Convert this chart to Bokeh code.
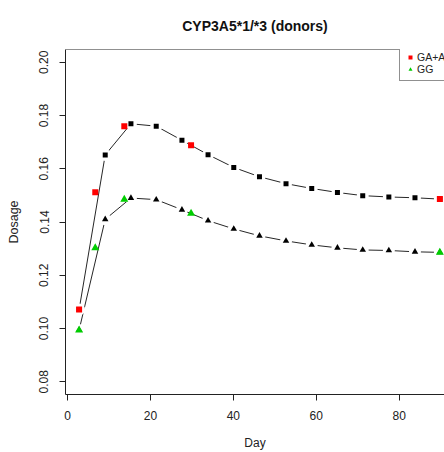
from bokeh.plotting import figure
from bokeh.models import Range1d, Span, Legend, LegendItem, FixedTicker, Title
from bokeh.embed import file_html
from bokeh.resources import INLINE

# ---- data ----
model_day = [2.8, 9.1, 15.3, 21.4, 27.6, 33.9, 40.1, 46.3, 52.7, 58.9, 65.1, 71.2, 77.5, 83.8, 89.8]
model_ga = [0.1071, 0.1652, 0.1769, 0.1760, 0.1707, 0.1653, 0.1605, 0.1570, 0.1544, 0.1526,
            0.1511, 0.1499, 0.1494, 0.1491, 0.1486]
model_gg = [0.0994, 0.1410, 0.1490, 0.1484, 0.1446, 0.1405, 0.1374, 0.1348, 0.1329, 0.1314,
            0.1303, 0.1295, 0.1293, 0.1288, 0.1286]
obs_day = [2.8, 6.7, 13.7, 29.8, 89.8]
obs_ga = [0.1071, 0.1512, 0.1760, 0.1688, 0.1486]
obs_gg = [0.0994, 0.1303, 0.1485, 0.1432, 0.1286]
x_ticks = [0, 20, 40, 60, 80]
y_ticks = [0.08, 0.10, 0.12, 0.14, 0.16, 0.18, 0.20]
series_labels = ["GA+AA", "GG"]
title_text = "CYP3A5*1/*3 (donors)"
x_label = "Day"
y_label = "Dosage"

FONT = "Liberation Sans"
RED = "#FF0000"
GREEN = "#00CD00"
LINE = "#262626"
TXT = "#222222"

p = figure(width=444, height=452, output_backend="svg", toolbar_location=None,
           x_range=Range1d(-0.48, 90.92), y_range=Range1d(0.0752, 0.2048),
           min_border_left=65, min_border_right=0, min_border_top=48, min_border_bottom=57)
p.title = Title(text=title_text, align="center", text_font=FONT, text_font_size="14px",
                text_font_style="bold", text_color="#111111", offset=10, standoff=31)
p.outline_line_color = None
p.grid.visible = False
p.background_fill_color = "white"
p.border_fill_color = "white"

# top border of the box
p.add_layout(Span(location=0.2048, dimension="width", line_color=TXT, line_width=1))

for ax in (p.xaxis[0], p.yaxis[0]):
    ax.axis_line_color = TXT
    ax.major_tick_line_color = TXT
    ax.major_tick_in = 0
    ax.major_tick_out = 6
    ax.minor_tick_line_color = None
    ax.major_label_text_font = FONT
    ax.major_label_text_font_size = "12px"
    ax.major_label_text_color = TXT
    ax.axis_label_text_font = FONT
    ax.axis_label_text_font_style = "normal"
    ax.axis_label_text_color = TXT

p.xaxis.ticker = FixedTicker(ticks=x_ticks)
p.yaxis.ticker = FixedTicker(ticks=y_ticks)
p.yaxis.major_label_overrides = {t: f"{t:.2f}" for t in y_ticks}
p.yaxis.major_label_orientation = "vertical"
p.xaxis.axis_label = x_label
p.yaxis.axis_label = y_label
p.xaxis.axis_label_text_font_size = "12px"
p.yaxis.axis_label_text_font_size = "12.5px"
p.xaxis.major_label_standoff = 10
p.yaxis.major_label_standoff = 11
p.xaxis.axis_label_standoff = 13
p.yaxis.axis_label_standoff = 16

# model lines with gaps around points (R type="b")
for ys in (model_ga, model_gg):
    p.line(model_day, ys, line_color=LINE, line_width=1)
for ys in (model_ga, model_gg):
    p.scatter(model_day, ys, marker="circle", size=12, fill_color="white", line_color=None)
p.scatter(model_day, model_ga, marker="square", size=5, fill_color="black", line_color=None)
p.scatter(model_day, model_gg, marker="triangle", size=6.5, fill_color="black", line_color=None)

r_ga = p.scatter(obs_day, obs_ga, marker="square", size=6, fill_color=RED, line_color=None)
r_gg = p.scatter(obs_day, obs_gg, marker="triangle", size=8, fill_color=GREEN, line_color=None)

legend = Legend(items=[LegendItem(label=series_labels[0], renderers=[r_ga]),
                       LegendItem(label=series_labels[1], renderers=[r_gg])],
                location=(334, 313), label_text_font=FONT, label_text_font_size="10.5px",
                label_text_color=TXT, glyph_width=10, glyph_height=12, label_height=12,
                label_standoff=2, padding=5, spacing=0, margin=0,
                border_line_color=TXT, border_line_width=1, background_fill_alpha=1)
p.add_layout(legend)

open("out.html", "w").write(file_html(p, INLINE))
